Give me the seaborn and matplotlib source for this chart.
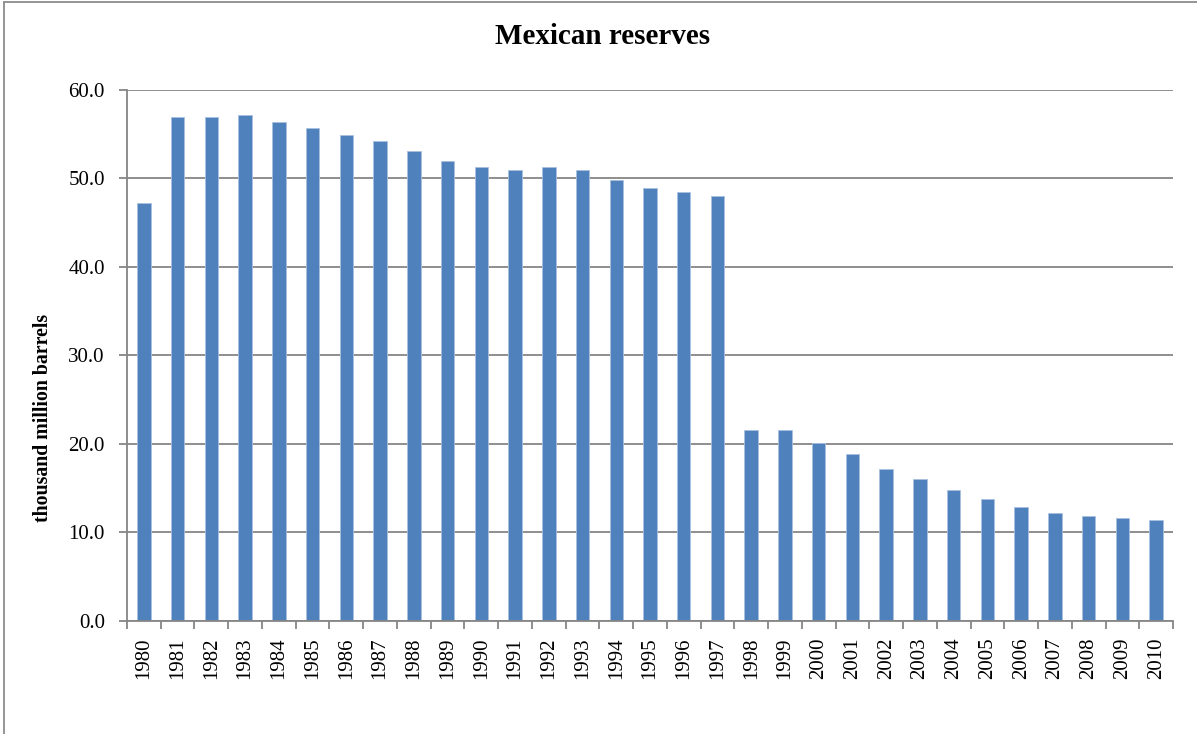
import numpy as np
import pandas as pd
import matplotlib
matplotlib.use("Agg")
import matplotlib.pyplot as plt
from matplotlib.lines import Line2D
from matplotlib.ticker import FixedLocator, FormatStrFormatter
import seaborn as sns

# Proved oil reserves of Mexico, thousand million barrels
years = [str(y) for y in range(1980, 2011)]
reserves = [47.2, 56.9, 56.9, 57.2, 56.4, 55.7, 54.9, 54.2, 53.1, 52.0,
            51.3, 50.9, 51.3, 50.9, 49.8, 48.9, 48.5, 48.0, 21.5, 21.5,
            20.1, 18.8, 17.1, 16.0, 14.8, 13.7, 12.8, 12.2, 11.8, 11.6,
            11.4]
y_ticks = [0, 10, 20, 30, 40, 50, 60]

df = pd.DataFrame({"year": years, "reserves": reserves})

sns.set_theme(style="white")
plt.rcParams["font.family"] = ["Liberation Serif", "DejaVu Serif"]
plt.rcParams["text.color"] = "black"
plt.rcParams["xtick.labelcolor"] = "black"
plt.rcParams["ytick.labelcolor"] = "black"

W, H = 1197, 734
fig = plt.figure(figsize=(W / 100, H / 100), dpi=100)
ax = fig.add_axes([127 / W, 1 - 620.5 / H, (1173 - 127) / W, (620.5 - 90) / H])

bar_color = "#4F81BD"
grid_color = "#868686"

sns.barplot(data=df, x="year", y="reserves", color=bar_color, width=0.4,
            edgecolor="#A9C1DF", linewidth=0.6, saturation=1, ax=ax)

ax.set_xlim(-0.5, len(years) - 0.5)
ax.set_ylim(0, 60)
ax.yaxis.set_major_locator(FixedLocator(y_ticks))
ax.yaxis.set_major_formatter(FormatStrFormatter("%.1f"))
ax.grid(axis="y", color=grid_color, linewidth=1.3)
ax.set_axisbelow(True)

for side in ("top", "right"):
    ax.spines[side].set_visible(False)
for side in ("left", "bottom"):
    ax.spines[side].set_color(grid_color)
    ax.spines[side].set_linewidth(1.3)

# category labels centred under bars, tick marks on category boundaries
ax.set_xticks(range(len(years)))
ax.set_xticklabels(years, rotation=90, fontsize=15, color="black")
ax.set_xticks(np.arange(-0.5, len(years), 1.0), minor=True)
ax.tick_params(axis="x", which="major", length=0, pad=12)
ax.tick_params(axis="x", which="minor", length=6, width=1.3, color=grid_color,
               direction="out", bottom=True)
ax.tick_params(axis="y", length=6, width=1.3, color=grid_color,
               direction="out", left=True, pad=10, labelsize=15,
               labelcolor="black")

ax.set_xlabel("")
ax.set_ylabel("")

fig.text(603 / W, 1 - 37 / H, "Mexican reserves", ha="center", va="center",
         fontsize=21, fontweight="bold", color="black")
fig.text(43 / W, 1 - 418 / H, "thousand million barrels", ha="center",
         va="center", rotation=90, fontsize=14.3, fontweight="bold",
         color="black")

# outer chart frame
fig.add_artist(Line2D([4 / W, 4 / W], [0, 1 - 2 / H], transform=fig.transFigure,
                      color="#8C8C8C", linewidth=1.3))
fig.add_artist(Line2D([4 / W, 1], [1 - 2 / H, 1 - 2 / H], transform=fig.transFigure,
                      color="#8C8C8C", linewidth=1.3))

fig.savefig("out.png", dpi=100, facecolor="white")
